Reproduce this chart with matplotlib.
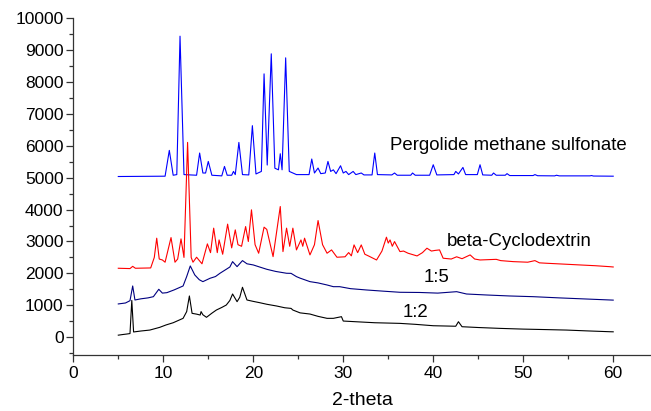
import matplotlib
matplotlib.use("Agg")
import matplotlib.pyplot as plt
from matplotlib.ticker import MultipleLocator

plt.rcParams['font.family'] = ['Liberation Sans', 'DejaVu Sans']

# Pergolide methane sulfonate (vertices)
pergolide_x = [5.0, 10.2, 10.67, 11.1, 11.5, 11.86, 12.3, 13.7, 14.04, 14.4, 14.7, 15.0, 15.4,
               16.5, 16.8, 17.1, 17.6, 17.8, 18.0, 18.4, 18.8, 19.5, 19.9, 20.3, 20.9, 21.2,
               21.55, 22.0, 22.4, 22.8, 23.0, 23.2, 23.6, 24.0, 24.4, 24.8, 26.2, 26.5, 26.8,
               27.2, 27.5, 28.0, 28.3, 28.6, 28.9, 29.2, 29.7, 30.0, 30.3, 30.6, 31.1, 31.4,
               32.0, 32.3, 33.2, 33.5, 33.8, 35.4, 35.7, 36.0, 37.5, 37.7, 38.0, 39.6, 40.0,
               40.4, 42.3, 42.5, 42.8, 43.3, 43.6, 44.9, 45.2, 45.5, 46.5, 46.7, 47.0, 48.0,
               48.2, 48.5, 51.1, 51.3, 51.6, 53.5, 53.7, 54.0, 57.4, 57.6, 57.8, 60.0]
pergolide_y = [5040, 5050, 5860, 5080, 5100, 9445, 5100, 5080, 5777, 5150, 5150, 5513, 5080,
               5060, 5356, 5080, 5080, 5200, 5100, 6110, 5100, 5090, 6636, 5120, 5200, 8262,
               5400, 8891, 5300, 5250, 5755, 5250, 8765, 5200, 5150, 5100, 5100, 5589, 5150,
               5306, 5130, 5150, 5513, 5200, 5250, 5130, 5378, 5150, 5200, 5100, 5199, 5100,
               5150, 5090, 5090, 5777, 5100, 5090, 5150, 5080, 5080, 5150, 5080, 5080, 5409,
               5090, 5100, 5200, 5120, 5325, 5100, 5100, 5409, 5090, 5080, 5150, 5080, 5080,
               5130, 5070, 5070, 5100, 5065, 5060, 5080, 5060, 5060, 5070, 5055, 5050]

# beta-Cyclodextrin
cyclo_x = [5.0, 6.3, 6.6, 6.9, 8.6, 9.0, 9.27, 9.55, 9.9, 10.2, 10.86, 11.3, 11.6, 11.97, 12.3,
           12.7, 13.1, 13.3, 13.7, 14.3, 14.9, 15.25, 15.6, 16.0, 16.2, 16.6, 17.15, 17.6, 18.0,
           18.3, 18.7, 19.15, 19.45, 19.8, 20.2, 20.6, 21.2, 21.5, 22.2, 23.0, 23.3, 23.7,
           24.05, 24.4, 24.8, 25.3, 25.5, 25.7, 26.3, 26.8, 27.2, 27.7, 28.2, 28.7, 29.3, 30.2,
           30.6, 30.9, 31.2, 31.6, 32.0, 32.4, 32.8, 33.7, 34.3, 34.8, 35.0, 35.2, 35.45, 35.7,
           36.3, 36.7, 37.2, 38.2, 38.8, 39.3, 39.8, 40.2, 40.7, 41.1, 42.0, 42.6, 43.2, 44.1,
           44.6, 45.2, 47.0, 47.5, 48.9, 50.5, 51.3, 51.8, 52.6, 54.5, 56.3, 58.0, 59.6, 60.0]
cyclo_y = [2160, 2150, 2220, 2160, 2170, 2500, 3104, 2450, 2420, 2350, 3123, 2350, 2450, 3082,
           2500, 6111, 2500, 2350, 2506, 2300, 2925, 2650, 3419, 2650, 3050, 2600, 3545, 2800,
           3365, 2900, 2850, 3469, 3000, 3994, 2900, 2632, 3450, 3380, 2525, 4098, 2683, 3419,
           2850, 3419, 2736, 3050, 2850, 3104, 2579, 2900, 3658, 2900, 2632, 2736, 2506, 2520,
           2652, 2550, 2893, 2650, 2893, 2600, 2547, 2420, 2700, 3135, 2950, 3050, 2850, 2997,
           2683, 2700, 2632, 2547, 2650, 2789, 2700, 2720, 2736, 2475, 2450, 2520, 2460, 2579,
           2450, 2420, 2440, 2400, 2368, 2350, 2400, 2330, 2317, 2290, 2264, 2240, 2210, 2200]

# complex 1:5
r15_x = [5.0, 5.8, 6.3, 6.6, 6.85, 7.5, 8.3, 8.9, 9.5, 9.9, 10.4, 11.2, 12.2, 12.6, 13.0, 13.5,
         14.0, 14.4, 15.2, 15.8, 16.3, 17.0, 17.4, 17.7, 18.2, 18.8, 19.3, 20.0, 20.7, 21.5,
         22.5, 23.7, 24.2, 24.8, 25.2, 26.3, 27.2, 28.2, 28.9, 29.6, 30.8, 32.6, 34.5, 36.3,
         38.5, 40.5, 42.6, 43.7, 46.0, 48.5, 51.1, 54.0, 57.0, 60.0]
r15_y = [1040, 1070, 1142, 1604, 1164, 1200, 1230, 1268, 1500, 1380, 1394, 1480, 1604, 1900,
         2233, 1950, 1800, 1740, 1846, 1900, 2003, 2128, 2200, 2368, 2211, 2400, 2300, 2264,
         2200, 2128, 2060, 2003, 2000, 1897, 1850, 1740, 1700, 1635, 1582, 1582, 1520, 1478,
         1440, 1406, 1400, 1380, 1425, 1352, 1320, 1290, 1268, 1230, 1195, 1160]

# complex 1:2
r12_x = [5.0, 5.5, 5.9, 6.3, 6.5, 6.7, 7.5, 8.5, 9.6, 10.3, 11.1, 12.2, 12.6, 12.9, 13.2, 13.7,
         14.1, 14.2, 14.4, 14.8, 15.4, 15.9, 16.5, 17.0, 17.4, 17.7, 18.2, 18.5, 18.8, 19.3,
         20.0, 20.7, 21.5, 22.6, 23.5, 24.2, 24.4, 25.2, 26.3, 27.2, 28.2, 28.9, 29.8, 30.0,
         31.5, 33.5, 36.3, 38.0, 40.0, 42.5, 42.8, 43.2, 45.0, 47.4, 50.0, 52.5, 54.8, 57.0,
         59.6, 60.0]
r12_y = [60, 80, 94, 110, 1150, 160, 190, 220, 305, 380, 450, 588, 800, 1290, 745, 720, 692,
         800, 700, 620, 750, 849, 930, 1006, 1150, 1352, 1111, 1250, 1563, 1164, 1120, 1080,
         1030, 975, 920, 900, 849, 760, 723, 650, 588, 588, 640, 503, 480, 450, 430, 400, 356,
         340, 482, 325, 300, 273, 250, 235, 220, 195, 168, 165]

fig = plt.figure(figsize=(6.51, 4.11), dpi=100)
ax = fig.add_axes([0.1126, 0.136, 0.8874, 0.819])

lw = 0.8
ax.plot(pergolide_x, pergolide_y, color='#0000ff', lw=lw)
ax.plot(cyclo_x, cyclo_y, color='#ff0000', lw=lw)
ax.plot(r15_x, r15_y, color='#000080', lw=lw)
ax.plot(r12_x, r12_y, color='black', lw=lw)

ax.text(35.2, 6000, 'Pergolide methane sulfonate', fontsize=13.4, ha='left', va='center')
ax.text(41.5, 3015, 'beta-Cyclodextrin', fontsize=13.4, ha='left', va='center')
ax.text(38.9, 1875, '1:5', fontsize=13.4, ha='left', va='center')
ax.text(36.6, 776, '1:2', fontsize=13.4, ha='left', va='center')

ax.set_xlim(0, 64.2)
ax.set_ylim(-566, 10000)
ax.xaxis.set_major_locator(MultipleLocator(10))
ax.xaxis.set_minor_locator(MultipleLocator(5))
ax.yaxis.set_major_locator(MultipleLocator(1000))
ax.yaxis.set_minor_locator(MultipleLocator(500))
ax.tick_params(which='major', length=5, width=0.9, labelsize=12.5, color='#333333')
ax.tick_params(which='minor', length=2.8, width=0.9, color='#333333')
ax.tick_params(axis='y', pad=2)
ax.tick_params(axis='x', pad=3)
for s in ['top', 'right']:
    ax.spines[s].set_visible(False)
for s in ['left', 'bottom']:
    ax.spines[s].set_linewidth(0.9)
    ax.spines[s].set_color('#333333')

ax.set_xlabel('2-theta', fontsize=14, labelpad=7.5)

fig.savefig('out.png', dpi=100)
